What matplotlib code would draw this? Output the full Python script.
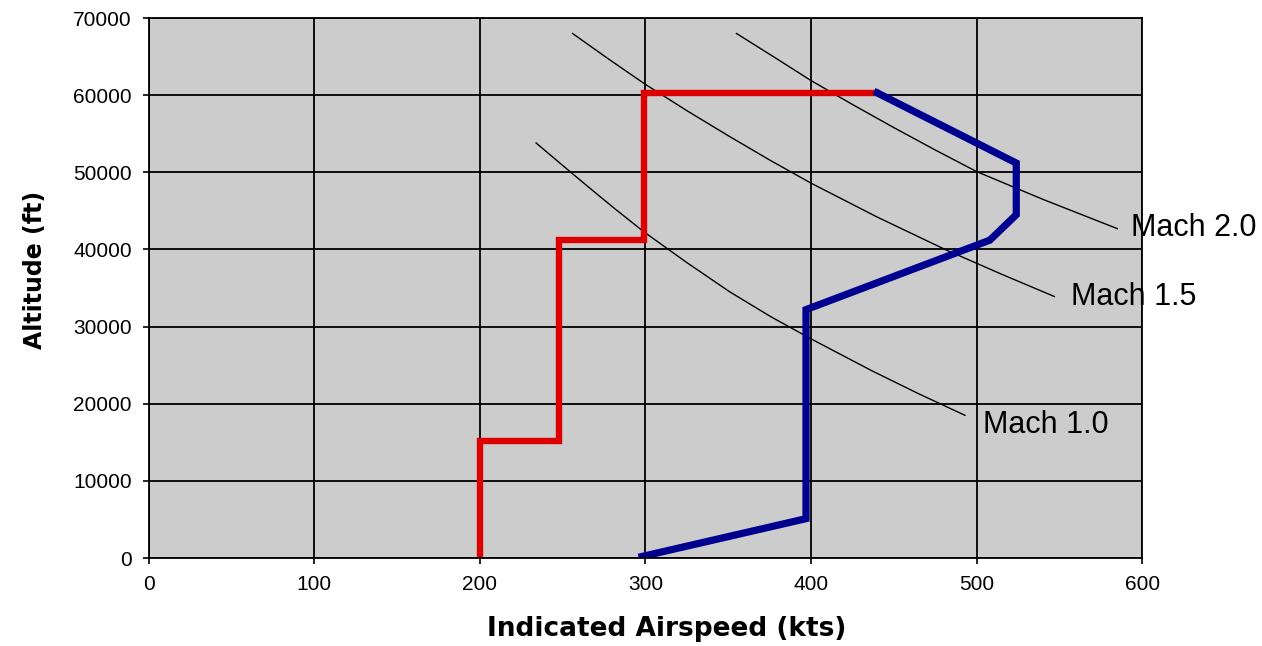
import numpy as np
import matplotlib.pyplot as plt

plt.rcParams['font.family'] = ['Liberation Sans', 'DejaVu Sans']

# red profile (kts, ft)
red_kts = [200, 200, 248, 248, 299, 299, 440]
red_alt = [0, 15200, 15200, 41200, 41200, 60300, 60300]

# blue profile
blue_kts = [440, 524, 524, 508, 397, 397, 298]
blue_alt = [60300, 51200, 44500, 41200, 32200, 5100, 200]

# constant Mach curves
m10_kts = [234, 250, 265, 282, 299, 325, 351, 376, 401, 437, 465, 493]
m10_alt = [53800, 50900, 48200, 45200, 42300, 38300, 34500, 31250, 28300, 24250, 21300, 18500]
m15_kts = [256, 278, 300, 325, 350, 375, 400, 440, 481, 515, 547]
m15_alt = [68000, 64650, 61400, 58000, 54750, 51600, 48600, 44200, 40000, 36800, 33900]
m20_kts = [355, 378, 400, 425, 450, 475, 500, 540, 585]
m20_alt = [68000, 64900, 61900, 58800, 55800, 52900, 50100, 46500, 42700]

mach_labels = ['Mach 2.0', 'Mach 1.5', 'Mach 1.0']
label_kts = [593, 557, 504]
label_alt = [42800, 33850, 17250]

fig = plt.figure(figsize=(12.62, 6.46), dpi=100)
ax = fig.add_axes([0.1178, 0.1362, 0.7872, 0.8359])
ax.set_facecolor('#cccccc')

ax.plot(m10_kts, m10_alt, color='black', lw=1)
ax.plot(m15_kts, m15_alt, color='black', lw=1)
ax.plot(m20_kts, m20_alt, color='black', lw=1)

ax.plot(red_kts, red_alt, color='#dd0000', lw=4.6, solid_joinstyle='miter')
ax.plot(blue_kts, blue_alt, color='#000090', lw=5.2, solid_joinstyle='miter')

for lab, xk, ya in zip(mach_labels, label_kts, label_alt):
    ax.text(xk, ya, lab, fontsize=22, va='center', ha='left', clip_on=False)

ax.set_xlim(0, 600)
ax.set_ylim(0, 70000)
ax.set_xticks(np.arange(0, 601, 100))
ax.set_yticks(np.arange(0, 70001, 10000))
ax.grid(True, color='black', lw=1.3)
ax.set_axisbelow(True)
for s in ax.spines.values():
    s.set_color('black')
    s.set_linewidth(1.3)
ax.tick_params(direction='out', length=4, width=1.2, labelsize=15, pad=8)

ax.set_xlabel('Indicated Airspeed (kts)', fontsize=19, fontweight='bold',
              family='DejaVu Sans')
ax.set_ylabel('Altitude (ft)', fontsize=17, fontweight='bold',
              family='DejaVu Sans')
ax.xaxis.set_label_coords(0.521, -0.107)
ax.yaxis.set_label_coords(-0.102, 0.533)

fig.savefig('out.png', dpi=100)
